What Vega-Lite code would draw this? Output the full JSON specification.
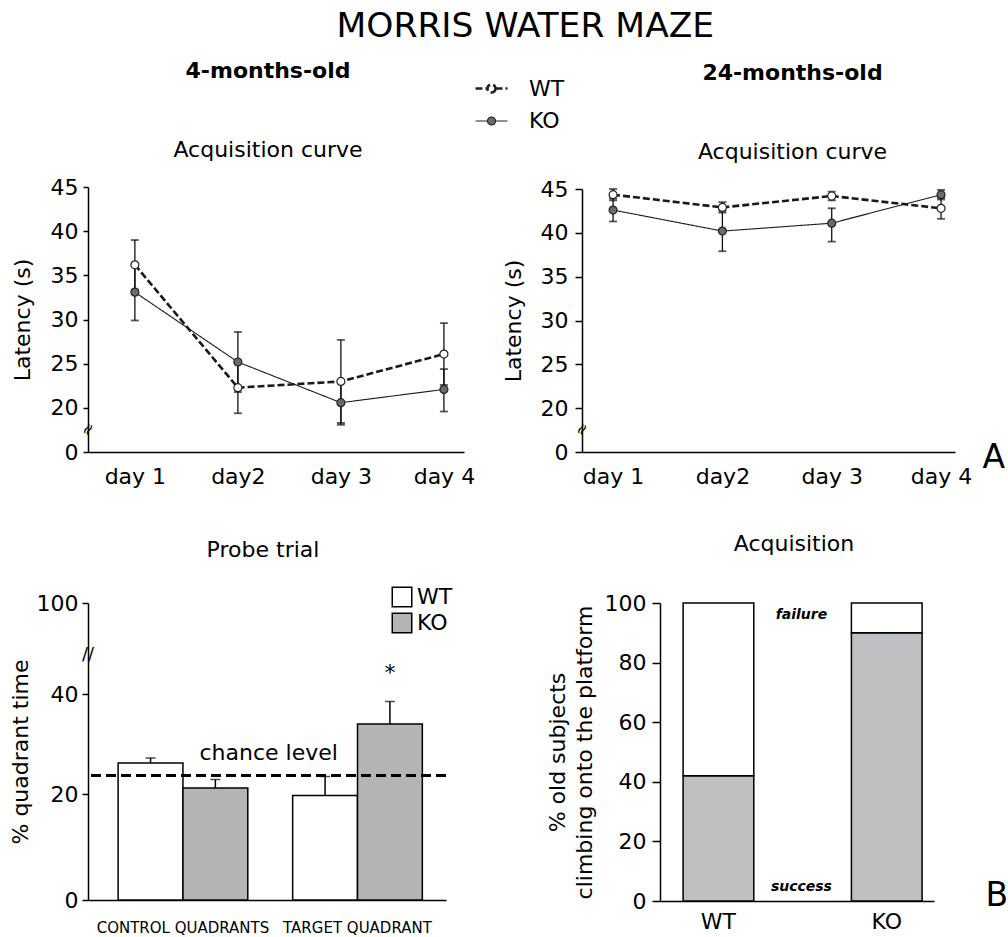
{
  "$schema": "https://vega.github.io/schema/vega-lite/v6.json",
  "background": "white",
  "padding": {"left": 9, "top": 8, "right": 4, "bottom": 4},
  "spacing": 46,
  "title": {"text": "MORRIS WATER MAZE", "fontSize": 34.5, "fontWeight": "normal", "font": "DejaVu Sans", "color": "#000", "anchor": "middle", "frame": "bounds", "dx": 17, "offset": 16},
  "config": {
    "font": "DejaVu Sans",
    "view": {"stroke": null},
    "axis": {"domainColor": "#000", "tickColor": "#000", "labelColor": "#000", "titleColor": "#000", "labelFont": "DejaVu Sans", "titleFont": "DejaVu Sans", "labelFontSize": 22, "titleFontSize": 22, "titleFontWeight": "normal", "grid": false, "domainWidth": 1.5, "tickWidth": 1.5},
    "title": {"font": "DejaVu Sans", "subtitleFont": "DejaVu Sans", "color": "#000", "subtitleColor": "#000", "fontSize": 22, "subtitleFontSize": 22},
    "legend": {"labelFont": "DejaVu Sans", "labelColor": "#000", "labelFontSize": 22}
  },
  "datasets": {
    "acq4": [
      {"day": "day 1", "group": "WT", "mean": 36.2, "lo": 33.4, "hi": 39.0},
      {"day": "day2", "group": "WT", "mean": 22.3, "lo": 19.4, "hi": 25.2},
      {"day": "day 3", "group": "WT", "mean": 23.0, "lo": 18.3, "hi": 27.7},
      {"day": "day 4", "group": "WT", "mean": 26.1, "lo": 22.6, "hi": 29.6},
      {"day": "day 1", "group": "KO", "mean": 33.1, "lo": 29.9, "hi": 36.3},
      {"day": "day2", "group": "KO", "mean": 25.2, "lo": 21.8, "hi": 28.6},
      {"day": "day 3", "group": "KO", "mean": 20.6, "lo": 18.1, "hi": 23.1},
      {"day": "day 4", "group": "KO", "mean": 22.1, "lo": 19.6, "hi": 24.4}
    ],
    "acq24": [
      {"day": "day 1", "group": "WT", "mean": 44.35, "lo": 43.7, "hi": 45.0},
      {"day": "day2", "group": "WT", "mean": 42.9, "lo": 42.3, "hi": 43.5},
      {"day": "day 3", "group": "WT", "mean": 44.2, "lo": 43.7, "hi": 44.7},
      {"day": "day 4", "group": "WT", "mean": 42.8, "lo": 41.6, "hi": 44.0},
      {"day": "day 1", "group": "KO", "mean": 42.6, "lo": 41.3, "hi": 43.9},
      {"day": "day2", "group": "KO", "mean": 40.2, "lo": 37.9, "hi": 42.5},
      {"day": "day 3", "group": "KO", "mean": 41.1, "lo": 39.0, "hi": 42.8},
      {"day": "day 4", "group": "KO", "mean": 44.35, "lo": 43.8, "hi": 44.9}
    ],
    "probe": [
      {"quadrant": "CONTROL QUADRANTS", "group": "WT", "pct": 26.2, "hi": 27.2, "sig": ""},
      {"quadrant": "CONTROL QUADRANTS", "group": "KO", "pct": 21.2, "hi": 22.9, "sig": ""},
      {"quadrant": "TARGET QUADRANT", "group": "WT", "pct": 19.7, "hi": 23.5, "sig": ""},
      {"quadrant": "TARGET QUADRANT", "group": "KO", "pct": 34.0, "hi": 38.5, "sig": "*"}
    ],
    "climb": [
      {"group": "WT", "outcome": "success", "pct": 42, "rank": 1},
      {"group": "WT", "outcome": "failure", "pct": 58, "rank": 2},
      {"group": "KO", "outcome": "success", "pct": 90, "rank": 1},
      {"group": "KO", "outcome": "failure", "pct": 10, "rank": 2}
    ]
  },
  "vconcat": [
    {
      "bounds": "flush",
      "spacing": 118,
      "hconcat": [
        {
          "width": 376,
          "height": 265,
          "title": {"text": "4-months-old", "subtitle": "Acquisition curve", "fontWeight": "bold", "subtitleFontWeight": "normal", "subtitlePadding": 57, "frame": "group", "anchor": "middle", "dx": -8, "offset": 14},
          "data": {"name": "acq4"},
          "layer": [
            {
              "mark": {"type": "rule", "color": "#111", "strokeWidth": 1.3},
              "encoding": {
                "x": {"field": "day", "type": "nominal", "scale": {"type": "point", "domain": ["day 1", "day2", "day 3", "day 4"], "padding": 0.325, "align": 0.7}, "axis": {"title": null, "ticks": false, "tickSize": 0, "labelPadding": 14, "labelAngle": 0}},
                "y": {"field": "lo", "type": "quantitative", "scale": {"domain": [0, 17, 45], "range": [265, 247.5, 0], "nice": false, "zero": false}, "axis": {"values": [0, 20, 25, 30, 35, 40, 45], "title": "Latency (s)", "tickSize": 5, "labelPadding": 5, "titlePadding": 16}},
                "y2": {"field": "hi"}
              }
            },
            {
              "mark": {"type": "tick", "color": "#111", "thickness": 1.8, "size": 8},
              "encoding": {"x": {"field": "day", "type": "nominal"}, "y": {"field": "lo", "type": "quantitative"}}
            },
            {
              "mark": {"type": "tick", "color": "#111", "thickness": 1.8, "size": 8},
              "encoding": {"x": {"field": "day", "type": "nominal"}, "y": {"field": "hi", "type": "quantitative"}}
            },
            {
              "mark": {"type": "line", "color": "#1a1a1a"},
              "encoding": {
                "x": {"field": "day", "type": "nominal"},
                "y": {"field": "mean", "type": "quantitative"},
                "strokeDash": {"field": "group", "type": "nominal", "scale": {"domain": ["WT", "KO"], "range": [[7, 3], [1, 0]]},
                  "legend": {"orient": "none", "legendX": 386, "legendY": -116, "title": null, "symbolType": "M-1,0L-0.25,0M0.25,0L1,0M0.25,0A0.25,0.25,0,1,1,-0.25,0A0.25,0.25,0,1,1,0.25,0Z", "symbolSize": 1024, "symbolStrokeColor": "#222", "labelOffset": 20, "rowPadding": 4, "labelFontSize": 22}},
                "strokeWidth": {"field": "group", "type": "nominal", "scale": {"domain": ["WT", "KO"], "range": [2.6, 1.1]},
                  "legend": {"orient": "none", "legendX": 386, "legendY": -116, "title": null, "symbolType": "M-1,0L-0.25,0M0.25,0L1,0M0.25,0A0.25,0.25,0,1,1,-0.25,0A0.25,0.25,0,1,1,0.25,0Z", "symbolSize": 1024, "symbolStrokeColor": "#222", "labelOffset": 20, "rowPadding": 4, "labelFontSize": 22}}
              }
            },
            {
              "mark": {"type": "point", "filled": true, "size": 64, "stroke": "#222", "strokeWidth": 1.2, "opacity": 1},
              "encoding": {
                "x": {"field": "day", "type": "nominal"},
                "y": {"field": "mean", "type": "quantitative"},
                "fill": {"field": "group", "type": "nominal", "scale": {"domain": ["WT", "KO"], "range": ["#ffffff", "#6b6b6b"]},
                  "legend": {"orient": "none", "legendX": 386, "legendY": -116, "title": null, "symbolType": "M-1,0L-0.25,0M0.25,0L1,0M0.25,0A0.25,0.25,0,1,1,-0.25,0A0.25,0.25,0,1,1,0.25,0Z", "symbolSize": 1024, "symbolStrokeColor": "#222", "labelOffset": 20, "rowPadding": 4, "labelFontSize": 22}}
              }
            },
            {
              "data": {"values": [{"brk": 17.6}]},
              "mark": {"type": "text", "text": "≈", "x": 0, "fontSize": 16, "angle": 300, "align": "center", "baseline": "middle", "color": "#000"},
              "encoding": {"y": {"field": "brk", "type": "quantitative"}}
            }
          ]
        },
        {
          "width": 373,
          "height": 265,
          "title": {"text": "24-months-old", "subtitle": "Acquisition curve", "fontWeight": "bold", "subtitleFontWeight": "normal", "subtitlePadding": 57, "frame": "group", "anchor": "middle", "dx": 24, "offset": 14},
          "data": {"name": "acq24"},
          "layer": [
            {
              "mark": {"type": "rule", "color": "#111", "strokeWidth": 1.3},
              "encoding": {
                "x": {"field": "day", "type": "nominal", "scale": {"type": "point", "domain": ["day 1", "day2", "day 3", "day 4"], "padding": 0.206, "align": 0.69}, "axis": {"title": "A", "titleFontSize": 33, "titleX": 400, "titleY": 15, "titleAlign": "left", "titleBaseline": "alphabetic", "titleAnchor": "start", "ticks": false, "tickSize": 0, "labelPadding": 14, "labelAngle": 0}},
                "y": {"field": "lo", "type": "quantitative", "scale": {"domain": [0, 17, 45], "range": [265, 247.5, 2], "nice": false, "zero": false}, "axis": {"values": [0, 20, 25, 30, 35, 40, 45], "title": "Latency (s)", "tickSize": 7, "labelPadding": 7, "titlePadding": 15}},
                "y2": {"field": "hi"}
              }
            },
            {
              "mark": {"type": "tick", "color": "#111", "thickness": 1.8, "size": 8},
              "encoding": {"x": {"field": "day", "type": "nominal"}, "y": {"field": "lo", "type": "quantitative"}}
            },
            {
              "mark": {"type": "tick", "color": "#111", "thickness": 1.8, "size": 8},
              "encoding": {"x": {"field": "day", "type": "nominal"}, "y": {"field": "hi", "type": "quantitative"}}
            },
            {
              "mark": {"type": "line", "color": "#1a1a1a"},
              "encoding": {
                "x": {"field": "day", "type": "nominal"},
                "y": {"field": "mean", "type": "quantitative"},
                "strokeDash": {"field": "group", "type": "nominal", "scale": {"domain": ["WT", "KO"], "range": [[7, 3], [1, 0]]},
                  "legend": {"orient": "none", "legendX": 386, "legendY": -116, "title": null, "symbolType": "M-1,0L-0.25,0M0.25,0L1,0M0.25,0A0.25,0.25,0,1,1,-0.25,0A0.25,0.25,0,1,1,0.25,0Z", "symbolSize": 1024, "symbolStrokeColor": "#222", "labelOffset": 20, "rowPadding": 4, "labelFontSize": 22}},
                "strokeWidth": {"field": "group", "type": "nominal", "scale": {"domain": ["WT", "KO"], "range": [2.6, 1.1]},
                  "legend": {"orient": "none", "legendX": 386, "legendY": -116, "title": null, "symbolType": "M-1,0L-0.25,0M0.25,0L1,0M0.25,0A0.25,0.25,0,1,1,-0.25,0A0.25,0.25,0,1,1,0.25,0Z", "symbolSize": 1024, "symbolStrokeColor": "#222", "labelOffset": 20, "rowPadding": 4, "labelFontSize": 22}}
              }
            },
            {
              "mark": {"type": "point", "filled": true, "size": 64, "stroke": "#222", "strokeWidth": 1.2, "opacity": 1},
              "encoding": {
                "x": {"field": "day", "type": "nominal"},
                "y": {"field": "mean", "type": "quantitative"},
                "fill": {"field": "group", "type": "nominal", "scale": {"domain": ["WT", "KO"], "range": ["#ffffff", "#6b6b6b"]},
                  "legend": {"orient": "none", "legendX": 386, "legendY": -116, "title": null, "symbolType": "M-1,0L-0.25,0M0.25,0L1,0M0.25,0A0.25,0.25,0,1,1,-0.25,0A0.25,0.25,0,1,1,0.25,0Z", "symbolSize": 1024, "symbolStrokeColor": "#222", "labelOffset": 20, "rowPadding": 4, "labelFontSize": 22}}
              }
            },
            {
              "data": {"values": [{"brk": 17.6}]},
              "mark": {"type": "text", "text": "≈", "x": 0, "fontSize": 16, "angle": 300, "align": "center", "baseline": "middle", "color": "#000"},
              "encoding": {"y": {"field": "brk", "type": "quantitative"}}
            }
          ]
        }
      ]
    },
    {
      "bounds": "flush",
      "spacing": 214,
      "resolve": {"scale": {"color": "independent"}, "legend": {"color": "independent"}},
      "hconcat": [
        {
          "width": 358,
          "height": 297,
          "title": {"text": "Probe trial", "fontWeight": "normal", "frame": "group", "anchor": "middle", "dx": -4, "offset": 24},
          "data": {"name": "probe"},
          "layer": [
            {
              "mark": {"type": "bar", "stroke": "#000", "strokeWidth": 1.5, "opacity": 1},
              "encoding": {
                "x": {"field": "quadrant", "type": "nominal", "scale": {"domain": ["CONTROL QUADRANTS", "TARGET QUADRANT"], "paddingInner": 0.257, "paddingOuter": 0.154, "align": 0.56}, "axis": {"title": null, "ticks": false, "tickSize": 0, "labelPadding": 20, "labelAngle": 0, "labelFontSize": 15}},
                "xOffset": {"field": "group", "type": "nominal", "scale": {"domain": ["WT", "KO"], "paddingInner": 0, "paddingOuter": 0}},
                "y": {"field": "pct", "type": "quantitative", "scale": {"domain": [0, 20, 40, 100], "range": [297, 191, 91, 0], "nice": false, "zero": false}, "axis": {"values": [0, 20, 40, 100], "title": "% quadrant time", "tickSize": 6, "labelPadding": 4, "titlePadding": 4}},
                "color": {"field": "group", "type": "nominal", "scale": {"domain": ["WT", "KO"], "range": ["#ffffff", "#b4b4b4"]},
                  "legend": {"orient": "none", "legendX": 303, "legendY": -17, "title": null, "symbolType": "square", "symbolSize": 380, "symbolStrokeColor": "#000", "symbolStrokeWidth": 1.5, "symbolOpacity": 1, "labelOffset": 4, "rowPadding": 0, "labelFontSize": 22}}
              }
            },
            {
              "mark": {"type": "rule", "color": "#000", "strokeWidth": 1.5},
              "encoding": {
                "x": {"field": "quadrant", "type": "nominal"},
                "xOffset": {"field": "group", "type": "nominal"},
                "y": {"field": "pct", "type": "quantitative"},
                "y2": {"field": "hi"}
              }
            },
            {
              "mark": {"type": "tick", "color": "#000", "thickness": 1.5, "size": 10},
              "encoding": {
                "x": {"field": "quadrant", "type": "nominal"},
                "xOffset": {"field": "group", "type": "nominal"},
                "y": {"field": "hi", "type": "quantitative"}
              }
            },
            {
              "mark": {"type": "text", "fontSize": 22, "dy": -22, "align": "center", "baseline": "alphabetic", "color": "#000"},
              "encoding": {
                "x": {"field": "quadrant", "type": "nominal"},
                "xOffset": {"field": "group", "type": "nominal"},
                "y": {"field": "hi", "type": "quantitative"},
                "text": {"field": "sig"}
              }
            },
            {
              "data": {"values": [{"chance": 23.7, "label": "chance level", "q": "TARGET QUADRANT"}]},
              "layer": [
                {
                  "mark": {"type": "rule", "strokeDash": [10, 5], "strokeWidth": 3, "color": "#000"},
                  "encoding": {"y": {"field": "chance", "type": "quantitative"}}
                },
                {
                  "mark": {"type": "text", "dx": -24, "dy": -16, "fontSize": 22, "align": "center", "baseline": "alphabetic", "color": "#000"},
                  "encoding": {"x": {"field": "q", "type": "nominal", "bandPosition": 0}, "y": {"field": "chance", "type": "quantitative"}, "text": {"field": "label"}}
                }
              ]
            },
            {
              "data": {"values": [{"brk": 66}]},
              "mark": {"type": "text", "text": "//", "x": 0, "fontSize": 18, "align": "center", "baseline": "middle", "color": "#000"},
              "encoding": {"y": {"field": "brk", "type": "quantitative"}}
            }
          ]
        },
        {
          "width": 274,
          "height": 298,
          "title": {"text": "Acquisition", "fontWeight": "normal", "frame": "group", "anchor": "middle", "dx": -3, "offset": 36},
          "data": {"name": "climb"},
          "layer": [
            {
              "mark": {"type": "bar", "stroke": "#000", "strokeWidth": 1.5, "opacity": 1},
              "encoding": {
                "x": {"field": "group", "type": "nominal", "scale": {"domain": ["WT", "KO"], "paddingInner": 0.58, "paddingOuter": 0.104, "align": 0.66}, "axis": {"title": "B", "titleFontSize": 33, "titleX": 325, "titleY": 4, "titleAlign": "left", "titleBaseline": "alphabetic", "titleAnchor": "start", "ticks": false, "tickSize": 0, "labelPadding": 10, "labelAngle": 0}},
                "y": {"field": "pct", "type": "quantitative", "stack": "zero", "scale": {"domain": [0, 100], "nice": false}, "axis": {"values": [0, 10, 20, 30, 40, 50, 60, 70, 80, 90, 100], "labelExpr": "datum.value % 20 === 0 ? datum.label : ''", "title": ["% old subjects", "climbing onto the platform"], "titleLineHeight": 27, "tickSize": 8, "labelPadding": 6, "titlePadding": 8}},
                "color": {"field": "outcome", "type": "nominal", "scale": {"domain": ["success", "failure"], "range": ["#bebfc1", "#ffffff"]}, "legend": null},
                "order": {"field": "rank", "type": "quantitative"}
              }
            },
            {
              "data": {"values": [{"label": "failure", "v": 100, "g": "KO"}]},
              "mark": {"type": "text", "dx": -50, "dy": 16, "fontSize": 14, "fontWeight": "bold", "fontStyle": "italic", "align": "center", "baseline": "alphabetic", "color": "#000"},
              "encoding": {"x": {"field": "g", "type": "nominal", "bandPosition": 0}, "y": {"field": "v", "type": "quantitative"}, "text": {"field": "label"}}
            },
            {
              "data": {"values": [{"label": "success", "v": 0, "g": "KO"}]},
              "mark": {"type": "text", "dx": -50, "dy": -10, "fontSize": 14, "fontWeight": "bold", "fontStyle": "italic", "align": "center", "baseline": "alphabetic", "color": "#000"},
              "encoding": {"x": {"field": "g", "type": "nominal", "bandPosition": 0}, "y": {"field": "v", "type": "quantitative"}, "text": {"field": "label"}}
            }
          ]
        }
      ]
    }
  ]
}
